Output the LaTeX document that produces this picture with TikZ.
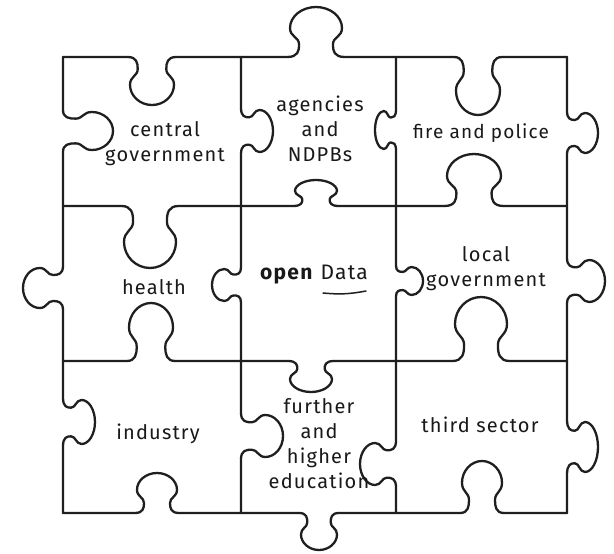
\documentclass[tikz,border=0pt]{standalone}
\usepackage{fontspec}
\setmainfont{Fira Sans}[LetterSpace=6]
\usepackage{tikz}
\tikzstyle{seam} = [draw=black!88, line width=2.3pt, line join=round, line cap=round]
\tikzstyle{word} = [text=black!90, align=center, inner sep=0pt, font={\fontsize{20}{25}\selectfont}]
% knob on a horizontal seam: centre x, seam y, half width, signed height
\newcommand{\hknob}[4]{%
 -- ({#1-1.1*#3},#2)
 .. controls ({#1-0.7*#3},#2) and ({#1-0.65*#3},{#2+0.12*#4}) .. ({#1-0.65*#3},{#2+0.25*#4})
 .. controls ({#1-0.65*#3},{#2+0.4*#4}) and ({#1-#3},{#2+0.4*#4}) .. ({#1-#3},{#2+0.58*#4})
 .. controls ({#1-#3},{#2+0.81*#4}) and ({#1-0.55*#3},{#2+#4}) .. ({#1},{#2+#4})
 .. controls ({#1+0.55*#3},{#2+#4}) and ({#1+#3},{#2+0.81*#4}) .. ({#1+#3},{#2+0.58*#4})
 .. controls ({#1+#3},{#2+0.4*#4}) and ({#1+0.65*#3},{#2+0.4*#4}) .. ({#1+0.65*#3},{#2+0.25*#4})
 .. controls ({#1+0.65*#3},{#2+0.12*#4}) and ({#1+0.7*#3},#2) .. ({#1+1.1*#3},#2)}
% knob on a vertical seam: seam x, centre y, half width, signed height
\newcommand{\vknob}[4]{%
 -- (#1,{#2-1.1*#3})
 .. controls (#1,{#2-0.7*#3}) and ({#1+0.12*#4},{#2-0.65*#3}) .. ({#1+0.25*#4},{#2-0.65*#3})
 .. controls ({#1+0.4*#4},{#2-0.65*#3}) and ({#1+0.4*#4},{#2-#3}) .. ({#1+0.58*#4},{#2-#3})
 .. controls ({#1+0.81*#4},{#2-#3}) and ({#1+#4},{#2-0.55*#3}) .. ({#1+#4},{#2})
 .. controls ({#1+#4},{#2+0.55*#3}) and ({#1+0.81*#4},{#2+#3}) .. ({#1+0.58*#4},{#2+#3})
 .. controls ({#1+0.4*#4},{#2+#3}) and ({#1+0.4*#4},{#2+0.65*#3}) .. ({#1+0.25*#4},{#2+0.65*#3})
 .. controls ({#1+0.12*#4},{#2+0.65*#3}) and (#1,{#2+0.7*#3}) .. (#1,{#2+1.1*#3})}
\begin{document}
\begin{tikzpicture}[x=1pt,y=-1pt]
        \useasboundingbox[fill=white] (0,0) rectangle (614,554);
        % horizontal seams
        \draw[seam] (63,57) \hknob{152}{57}{22}{48} \hknob{316}{57}{26}{-50} \hknob{478}{57}{22}{58} -- (567,57);
        \draw[seam] (63,206) \hknob{150}{206}{26}{62} \hknob{316}{206}{21}{-26} \hknob{474}{206}{27}{-52} -- (567,206);
        \draw[seam] (63,361) \hknob{151}{361}{22}{-58} \hknob{311}{361}{21}{31} \hknob{481}{361}{26}{-64} -- (567,361);
        \draw[seam] (63,513) \hknob{157}{513}{20}{-40} \hknob{319}{513}{18}{37} \hknob{482}{513}{20}{-52} -- (567,513);
        % vertical seams
        \draw[seam] (63,57) \vknob{63}{131}{19}{50} \vknob{63}{288}{20}{-40} \vknob{63}{422}{22}{32} -- (63,513);
        \draw[seam] (241,57) \vknob{241}{131}{21}{32} \vknob{241}{285}{16}{-29} \vknob{241}{436}{21}{42} -- (241,513);
        \draw[seam] (396,57) \vknob{396}{130}{19}{-21} \vknob{396}{281}{14}{27} \vknob{396}{464}{21}{-36} -- (396,513);
        \draw[seam] (567,57) \vknob{567}{133}{20}{31} \vknob{567}{281}{21}{38} \vknob{567}{447}{25}{31} -- (567,513);
        % piece labels
        \node[word](cg) at (165,144){central\\government};
        \node[word](ag) at (320,129){agencies\\and\\NDPBs};
        \node[word,font={\fontsize{19}{25}\selectfont}](fp) at (481,133){fire and police};
        \node[word](he) at (154,287){health};
        \node[word,font={\fontsize{21}{25}\selectfont}](od) at (314,275){\textbf{open} Data};
        \node[word](lg) at (486,269){local\\government};
        \node[word](ind) at (158,434){industry};
        \node[word](fh) at (319,444){further\\and\\higher\\education};
        \node[word](ts) at (480,425){third sector};
        \draw[seam, line width=1.5pt] (323,293) to[bend right=8] (366,291);
      \end{tikzpicture}
\end{document}
